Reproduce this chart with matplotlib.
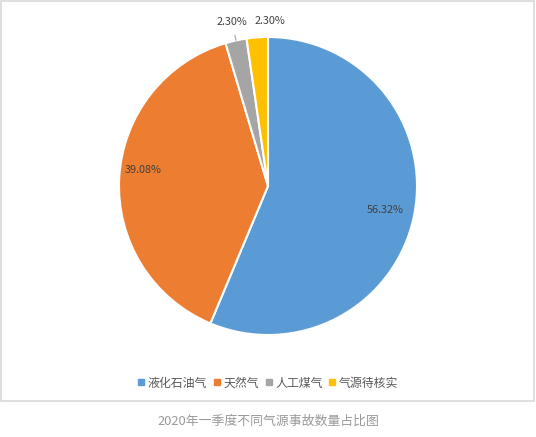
import numpy as np
import matplotlib.pyplot as plt
from matplotlib.lines import Line2D
from matplotlib.patches import Rectangle

plt.rcParams['font.family'] = ['Noto Sans CJK SC', 'DejaVu Sans']

labels = ['液化石油气', '天然气', '人工煤气', '气源待核实']
shares = [56.32, 39.08, 2.30, 2.30]
colors = ['#5B9BD5', '#ED7D31', '#A5A5A5', '#FFC000']
title = '2020年一季度不同气源事故数量占比图'

W, H = 536, 437
fig = plt.figure(figsize=(W / 100, H / 100), dpi=100)

# light frame around the chart area
fig.patches.append(Rectangle((1 / W, 1 - 401 / H), 533 / W, 400 / H,
                             transform=fig.transFigure, fill=False,
                             edgecolor='#d9d9d9', linewidth=1.2))

cx, cy, r = 268, 186, 149
ax = fig.add_axes([(cx - r) / W, (H - cy - r) / H, 2 * r / W, 2 * r / H])
wedges, _ = ax.pie(shares, colors=colors, startangle=90, counterclock=False,
                   radius=1, wedgeprops=dict(edgecolor='white', linewidth=1.5))
ax.set_xlim(-1, 1)
ax.set_ylim(-1, 1)
ax.set_aspect('equal')
ax.axis('off')

for i, (w, v) in enumerate(zip(wedges, shares)):
    mid = np.deg2rad((w.theta1 + w.theta2) / 2)
    txt = f'{v:.2f}%'
    if v > 10:
        d = 0.80 if i == 0 else 0.84
        ax.text(d * np.cos(mid), d * np.sin(mid) + (0.06 if i == 1 else 0), txt,
                ha='center', va='center', fontsize=7.8, color='#404040')
    elif i == 2:
        ax.annotate(txt, xy=(1.0 * np.cos(mid), 1.0 * np.sin(mid)),
                    xytext=(-0.24, 1.10), ha='center', va='center',
                    fontsize=7.8, color='#404040',
                    arrowprops=dict(arrowstyle='-', color='#a6a6a6', lw=0.8,
                                    shrinkA=4, shrinkB=0))
    else:
        ax.text(0.01, 1.11, txt, ha='center', va='center',
                fontsize=7.8, color='#404040')

handles = [Line2D([], [], marker='s', linestyle='', markersize=4.5,
                  markerfacecolor=c, markeredgecolor=c) for c in colors]
fig.legend(handles, labels, loc='center', bbox_to_anchor=(268 / W, 1 - 383 / H),
           ncol=4, frameon=False, fontsize=8.6, handlelength=0.6,
           handletextpad=0.25, columnspacing=0.5, labelcolor='#595959')

fig.text(268 / W, 1 - 421 / H, title, ha='center', va='center',
         fontsize=9.3, color='#9a9a9a')

fig.savefig('out.png', dpi=100)
